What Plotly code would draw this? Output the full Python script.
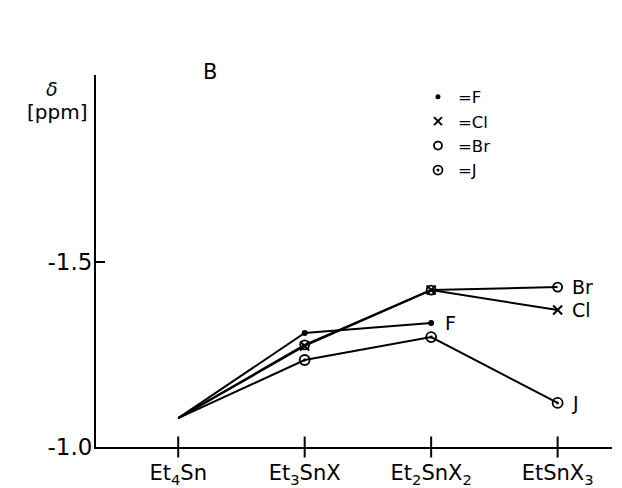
import plotly.graph_objects as go

# Compounds along the x axis
compounds = ["Et<sub>4</sub>Sn", "Et<sub>3</sub>SnX", "Et<sub>2</sub>SnX<sub>2</sub>", "EtSnX<sub>3</sub>"]
positions = [0, 1, 2, 3]

# Chemical shift δ [ppm] for each halogen series
delta_F = [-1.078, -1.308, -1.335]
delta_Cl = [-1.078, -1.273, -1.424, -1.370]
delta_Br = [-1.078, -1.276, -1.424, -1.432]
delta_J = [-1.078, -1.235, -1.297, -1.119]

series = [
    ("=F", "F", delta_F, "circle", 6, 0),
    ("=Cl", "Cl", delta_Cl, "x-thin-open", 9, 2),
    ("=Br", "Br", delta_Br, "circle-open", 9, 1.8),
    ("=J", "J", delta_J, "circle-open-dot", 10, 1.8),
]

font_family = "DejaVu Sans"
ink = "black"
x_range = [-0.65, 3.43]
y_range = [-1.0, -2.005]

fig = go.Figure()

# tick marks crossing the x axis line at each compound
fig.add_trace(go.Scatter(
    x=positions, y=[y_range[0]] * len(positions), mode="markers",
    marker=dict(symbol="line-ns-open", size=15, color=ink,
                line=dict(color=ink, width=2)),
    cliponaxis=False, showlegend=False, hoverinfo="skip",
))

for legend_name, end_label, values, symbol, size, lw in series:
    xs = positions[: len(values)]
    fig.add_trace(go.Scatter(
        x=xs, y=values, mode="lines",
        line=dict(color=ink, width=2),
        showlegend=False, hoverinfo="skip",
    ))
    fig.add_trace(go.Scatter(
        x=xs[1:], y=values[1:], mode="markers",
        marker=dict(symbol=symbol, size=size, color=ink,
                    line=dict(color=ink, width=lw)),
        showlegend=False,
    ))
    # legend entry (marker only)
    fig.add_trace(go.Scatter(
        x=[None], y=[None], mode="markers", name=legend_name,
        marker=dict(symbol=symbol, size=size - 1, color=ink,
                    line=dict(color=ink, width=lw)),
    ))
    fig.add_annotation(
        x=xs[-1], y=values[-1], text=end_label, showarrow=False,
        xanchor="left", yanchor="middle", xshift=12,
        font=dict(family=font_family, size=19, color=ink),
    )

fig.add_annotation(x=0.221, y=1.008, xref="paper", yref="paper", text="B",
                   showarrow=False, xanchor="center", yanchor="middle",
                   font=dict(family=font_family, size=21, color=ink))
fig.add_annotation(x=-0.085, y=0.962, xref="paper", yref="paper", text="<i>δ</i>",
                   showarrow=False, xanchor="center", yanchor="middle",
                   font=dict(family=font_family, size=19, color=ink))
fig.add_annotation(x=-0.076, y=0.90, xref="paper", yref="paper", text="[ppm]",
                   showarrow=False, xanchor="center", yanchor="middle",
                   font=dict(family=font_family, size=20, color=ink))

fig.update_layout(
    width=622, height=488,
    margin=dict(l=96, r=10, t=75, b=41, autoexpand=False),
    paper_bgcolor="white", plot_bgcolor="white",
    font=dict(family=font_family, size=16, color=ink),
    legend=dict(x=0.624, y=0.988, xanchor="left", yanchor="top",
                bgcolor="rgba(0,0,0,0)", tracegroupgap=0,
                font=dict(family=font_family, size=16.5, color=ink),
                itemwidth=30),
    xaxis=dict(range=x_range, tickvals=positions, ticktext=compounds,
               showgrid=False, zeroline=False, showline=True,
               linecolor=ink, linewidth=2, ticks="", ticklabelstandoff=6,
               automargin=False,
               tickfont=dict(family=font_family, size=21, color=ink)),
    yaxis=dict(range=y_range, tickvals=[-1.0, -1.5],
               ticktext=["-1.0", "-1.5"], showgrid=False, zeroline=False,
               showline=True, linecolor=ink, linewidth=2, automargin=False,
               ticks="inside", ticklen=9, tickwidth=1.5, tickcolor=ink,
               ticklabelstandoff=-3,
               tickfont=dict(family=font_family, size=23, color=ink)),
)

fig.write_html("out.html")
